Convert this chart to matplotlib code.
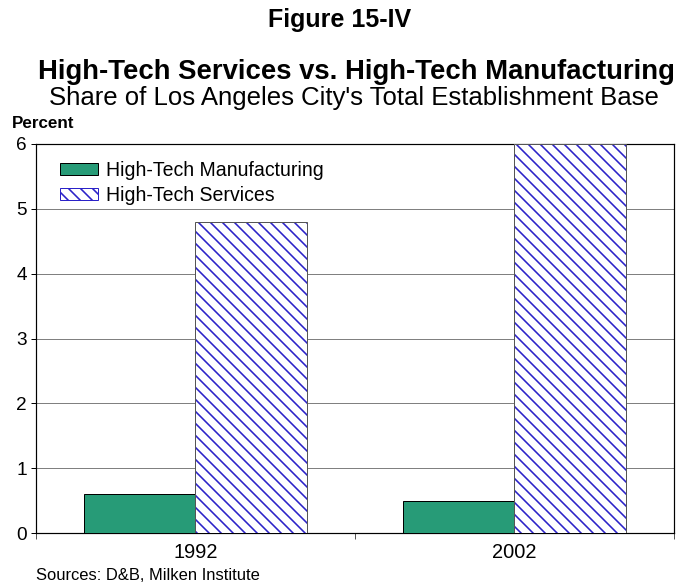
import numpy as np
import matplotlib.pyplot as plt
from matplotlib.patches import Patch

plt.rcParams['font.family'] = ['Liberation Sans', 'DejaVu Sans']
plt.rcParams['hatch.linewidth'] = 1.6

years = ['1992', '2002']
manufacturing = [0.6, 0.5]
services = [4.8, 6.0]

GREEN = '#279b77'
HATCH_BLUE = '#2b22c8'

W, H = 679, 586
fig = plt.figure(figsize=(W / 72, H / 72), dpi=72)
ax = fig.add_axes([0.053, 0.0904, 0.9396, 0.6639])

x = np.arange(len(years))
w = 0.35
ax.bar(x - w / 2, manufacturing, w, color=GREEN, edgecolor='black', linewidth=1, zorder=3)
# hatch drawn in blue, outline drawn separately in grey
ax.bar(x + w / 2, services, w, color='white', edgecolor=HATCH_BLUE, hatch='\\\\', linewidth=0, zorder=3)
ax.bar(x + w / 2, services, w, fill=False, edgecolor='#555555', linewidth=1, zorder=4)

ax.set_xlim(-0.5, 1.5)
ax.set_ylim(0, 6)
ax.set_yticks(range(7))
ax.yaxis.grid(True, color='#808080', linewidth=1)
ax.set_axisbelow(True)
ax.tick_params(axis='y', labelsize=19, length=5, width=1, pad=4)

ax.set_xticks(x)
ax.set_xticklabels(years, fontsize=20)
ax.set_xticks([-0.5, 0.5, 1.5], minor=True)
ax.tick_params(axis='x', which='major', length=0, pad=10)
ax.tick_params(axis='x', which='minor', length=6, width=1, color='#555555')

for s in ax.spines.values():
    s.set_linewidth(1.2)

handles = [Patch(facecolor=GREEN, edgecolor='black', label='High-Tech Manufacturing'),
           Patch(facecolor='white', edgecolor=HATCH_BLUE, hatch='\\\\', label='High-Tech Services')]
ax.legend(handles=handles, loc='upper left', bbox_to_anchor=(0.0376, 0.957), frameon=False,
          fontsize=19.5, handlelength=1.95, handleheight=0.55, handletextpad=0.4,
          labelspacing=0.3, borderpad=0, borderaxespad=0)


def head(x_px, y_px, s, **kw):
    # x_px is the centre, y_px the baseline, in pixels from the top-left corner
    fig.text(x_px / W, 1 - y_px / H, s, ha='center', va='baseline', **kw)


head(340, 27, 'Figure 15-IV', fontsize=25, fontweight='bold')
head(356, 79, 'High-Tech Services vs. High-Tech Manufacturing', fontsize=27.5, fontweight='bold')
head(354, 105, "Share of Los Angeles City's Total Establishment Base", fontsize=25.7)
fig.text(12 / W, 1 - 128 / H, 'Percent', ha='left', va='baseline', fontsize=17, fontweight='bold')
fig.text(36 / W, 1 - 580 / H, 'Sources: D&B, Milken Institute', ha='left', va='baseline', fontsize=16.5)

fig.savefig('out.png', dpi=72)
